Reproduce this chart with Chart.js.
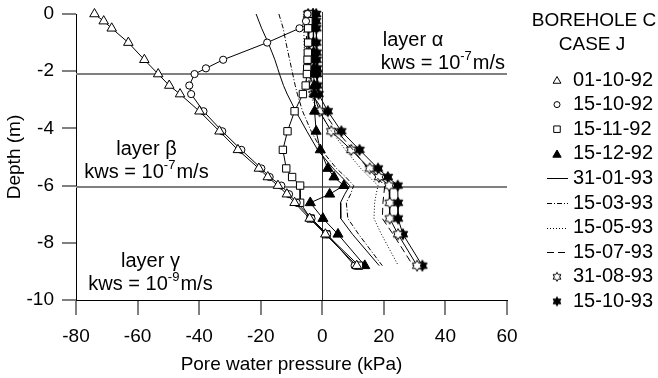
<!DOCTYPE html>
<html><head><meta charset="utf-8">
<script src="https://cdn.jsdelivr.net/npm/chart.js@4/dist/chart.umd.min.js"></script>
<style>html,body{margin:0;padding:0;background:#fff}#wrap{width:658px;height:378px;position:relative}</style>
</head><body><div id="wrap"><canvas id="c" width="658" height="378"></canvas></div>
<script>
// Depth levels (m)
const DEPTH = [0, -0.25, -0.5, -1.0, -1.35, -1.6, -1.9, -2.1, -2.5, -2.8, -3.4, -4.1, -4.75, -5.4, -5.7, -6.0, -6.3, -6.6, -7.15, -7.7, -8.8];
// Pore water pressure (kPa) per survey date, aligned with DEPTH (null = no reading)
const P_01_10_92 = [-74, -71, -68.4, -63, null, -57.8, null, -53.3, -49.7, -46.2, -39.9, -33.4, -27.4, -20.6, -17.7, -14.4, -11.5, -9.0, -4.1, 1.0, 11.2];
const P_15_10_92 = [-4.8, -5.3, -7.4, -17.9, null, -32.2, -37.8, -41.5, -43.2, -42.6, -38.6, -32.5, -26.3, -19.8, -17.1, -13.3, -10.8, -8.3, -3.5, 1.6, 10.5];
const P_15_11_92 = [-4.5, -4.5, -4.6, -4.6, -4.7, -4.8, -4.9, -5.0, -5.4, -6.3, -9.0, -11.3, -12.8, -11.7, -9.8, -7.2, null, -7.2, -3.8, 1.3, 11.9];
const P_15_12_92 = [-3.0, -3.0, -2.9, -2.9, -2.8, -2.8, -2.7, -2.7, -2.6, -2.5, -2.5, -2.0, -0.65, 1.8, 3.8, 7.0, 2.4, -3.9, 0.2, 5.1, 13.8];
const P_31_01_93 = [-21.5, -20.6, -19.7, -17.6, -16.3, -15.4, -14.5, -13.9, -12.6, -11.4, -8.6, -5.0, -1.5, 3.5, 6.3, 8.9, 7.3, 5.9, 6.0, 9.8, 18.5];
const P_15_03_93 = [-14.1, -13.4, -12.7, -11.8, -11.1, -10.6, -10.0, -9.6, -8.8, -8.1, -6.4, -3.6, -0.3, 4.6, 7.6, 10.2, 9.2, 7.8, 8.3, 11.8, 19.5];
const P_15_05_93 = [-6.0, -6.0, -6.0, -5.9, -5.8, -5.7, -5.6, -5.5, -5.0, -4.2, -1.2, 3.0, 7.5, 12.5, 15.3, 18.1, 17.5, 17.0, 16.8, 19.2, 24.7];
const P_15_07_93 = [-5.2, -5.2, -5.2, -5.1, -5.0, -4.9, -4.8, -4.6, -4.1, -3.2, 0.3, 4.8, 10.0, 14.8, 17.6, 20.3, 20.0, 19.7, 19.5, 23.0, 29.5];
const P_31_08_93 = [-4.6, -4.5, -4.4, -4.3, -4.2, -4.1, -4.0, -3.8, -3.5, -2.8, -0.9, 2.9, 9.4, 15.4, 18.4, 21.7, null, 21.9, 21.9, 24.6, 30.8];
const P_15_10_93 = [-2.0, -2.0, -1.9, -1.9, -1.8, -1.8, -1.7, -1.7, -1.6, -1.2, 1.8, 6.2, 12.1, 18.1, 21.3, 24.5, null, 24.6, 24.6, 26.2, 32.5];
const SERIES_LABELS = ['01-10-92','15-10-92','15-11-92','15-12-92','31-01-93','15-03-93','15-05-93','15-07-93','31-08-93','15-10-93'];
const SERIES_VALUES = [P_01_10_92, P_15_10_92, P_15_11_92, P_15_12_92, P_31_01_93, P_15_03_93, P_15_05_93, P_15_07_93, P_31_08_93, P_15_10_93];
const X_TICKS = [-80, -60, -40, -20, 0, 20, 40, 60];
const Y_TICKS = [0, -2, -4, -6, -8, -10];
const LAYER_BOUNDS = [-2.1, -6.05];
const LEGEND_TITLE = ['BOREHOLE C', 'CASE J'];
const LAYER_NAMES = ['layer α', 'layer β', 'layer γ'];
const LAYER_EXPONENTS = ['-7', '-7', '-9'];

const FONT = '"Liberation Sans", Arial, sans-serif';
// annotation anchors (data units) and alignment
const NOTE_POS = [
  {x: 19, d: -0.92, align: 'left'},
  {x: -57.1, d: -4.72, align: 'center'},
  {x: -55.8, d: -8.66, align: 'center'}
];

function makeStar(fill, R) {
  const s = Math.ceil(R * 2 + 3);
  const c = document.createElement('canvas'); c.width = c.height = s;
  const g = c.getContext('2d');
  const cx = s / 2, cy = s / 2, r = R / Math.sqrt(3);
  g.beginPath();
  for (let i = 0; i < 12; i++) {
    const a = -Math.PI / 2 + i * Math.PI / 6;
    const rr = i % 2 === 0 ? R : r;
    g.lineTo(cx + rr * Math.cos(a), cy + rr * Math.sin(a));
  }
  g.closePath(); g.fillStyle = fill; g.fill();
  g.strokeStyle = '#000'; g.lineWidth = 1; g.stroke();
  return c;
}
const STAR_OPEN = makeStar('#fff', 5.5), STAR_FILL = makeStar('#000', 5.5);
const STAR_OPEN_L = makeStar('#fff', 4.5), STAR_FILL_L = makeStar('#000', 4.5);

const STYLES = [
  {pointStyle: 'triangle', pointRadius: 5.5, pointBackgroundColor: '#fff'},
  {pointStyle: 'circle', pointRadius: 3.6, pointBackgroundColor: '#fff'},
  {pointStyle: 'rect', pointRadius: 5.2, pointBackgroundColor: '#fff'},
  {pointStyle: 'triangle', pointRadius: 5.8, pointBackgroundColor: '#000'},
  {pointRadius: 0, borderDash: []},
  {pointRadius: 0, borderDash: [5, 2, 1, 2]},
  {pointRadius: 0, borderDash: [1, 2]},
  {pointRadius: 0, borderDash: [7, 4]},
  {pointStyle: STAR_OPEN, pointRadius: 5.5, pointBackgroundColor: '#fff'},
  {pointStyle: STAR_FILL, pointRadius: 5.5, pointBackgroundColor: '#000'}
];
const LEGEND_MARKS = [
  {ps: 'triangle', r: 4.5, bg: '#fff'},
  {ps: 'circle', r: 3, bg: '#fff'},
  {ps: 'rect', r: 4.6, bg: '#fff'},
  {ps: 'triangle', r: 4.8, bg: '#000'},
  {dash: []},
  {dash: [5, 2, 1, 2]},
  {dash: [1, 2]},
  {dash: [7, 4]},
  {img: STAR_OPEN_L},
  {img: STAR_FILL_L}
];

const datasets = SERIES_VALUES.map((vals, i) => Object.assign({
  label: SERIES_LABELS[i],
  data: DEPTH.map((d, k) => vals[k] == null ? null : {x: vals[k], y: d}).filter(p => p),
  showLine: true,
  borderColor: '#000',
  borderWidth: 1,
  pointBorderColor: '#000',
  pointBorderWidth: 1,
  tension: 0,
  fill: false,
  clip: false
}, STYLES[i]));

const overlay = {
  id: 'overlay',
  beforeDatasetsDraw(chart) {
    const {ctx, chartArea: a, scales: {x, y}} = chart;
    ctx.save();
    ctx.strokeStyle = '#808080'; ctx.lineWidth = 2;
    LAYER_BOUNDS.forEach(d => {
      const py = Math.round(y.getPixelForValue(d));
      ctx.beginPath(); ctx.moveTo(a.left, py); ctx.lineTo(a.right, py); ctx.stroke();
    });
    ctx.strokeStyle = '#333'; ctx.lineWidth = 1;
    const px = Math.round(x.getPixelForValue(0)) + 0.5;
    ctx.beginPath(); ctx.moveTo(px, a.top - 2); ctx.lineTo(px, a.bottom); ctx.stroke();
    ctx.restore();
  },
  afterDraw(chart) {
    const {ctx, scales: {x, y}} = chart;
    ctx.save();
    ctx.fillStyle = '#000';
    ctx.textBaseline = 'middle';
    // layer annotations
    NOTE_POS.forEach((n, i) => {
      const ax = x.getPixelForValue(n.x), cy = y.getPixelForValue(n.d);
      const a = 'kws = 10', b = LAYER_EXPONENTS[i], c = 'm/s';
      ctx.font = '20px ' + FONT;
      const wName = ctx.measureText(LAYER_NAMES[i]).width;
      const wa = ctx.measureText(a).width, wc = ctx.measureText(c).width;
      ctx.font = '13px ' + FONT; const wb = ctx.measureText(b).width;
      const wk = wa + wb + wc + 1;
      ctx.textAlign = 'left';
      let nx, sx;
      if (n.align === 'left') { nx = ax + 2; sx = ax; }
      else { nx = ax - wName / 2; sx = ax - wk / 2; }
      ctx.font = '20px ' + FONT;
      ctx.fillText(LAYER_NAMES[i], nx, cy);
      const ly = cy + 23;
      ctx.fillText(a, sx, ly); sx += wa;
      ctx.font = '13px ' + FONT; ctx.fillText(b, sx, ly - 7); sx += wb + 1;
      ctx.font = '20px ' + FONT; ctx.fillText(c, sx, ly);
    });
    // legend
    ctx.textAlign = 'center';
    ctx.font = '19px ' + FONT;
    ctx.fillText(LEGEND_TITLE[0], 594, 21);
    ctx.fillText(LEGEND_TITLE[1], 592, 45);
    ctx.font = '20px ' + FONT;
    LEGEND_MARKS.forEach((lg, i) => {
      const ry = 80 + 24.6 * i, mx = 557;
      ctx.textAlign = 'left';
      ctx.fillStyle = '#000';
      ctx.fillText(SERIES_LABELS[i], 573, ry);
      ctx.strokeStyle = '#000'; ctx.lineWidth = 1;
      if (lg.dash) {
        ctx.setLineDash(lg.dash);
        ctx.beginPath(); ctx.moveTo(547, Math.round(ry) + 0.5); ctx.lineTo(568, Math.round(ry) + 0.5); ctx.stroke();
        ctx.setLineDash([]);
      } else if (lg.img) {
        ctx.drawImage(lg.img, mx - lg.img.width / 2, ry - lg.img.height / 2);
      } else {
        ctx.fillStyle = lg.bg;
        ctx.beginPath();
        if (lg.ps === 'triangle') {
          for (let k = 0; k < 3; k++) {
            const ang = k * 2 * Math.PI / 3;
            ctx.lineTo(mx + Math.sin(ang) * lg.r, ry - Math.cos(ang) * lg.r + 1);
          }
          ctx.closePath();
        } else if (lg.ps === 'circle') {
          ctx.arc(mx, ry, lg.r, 0, Math.PI * 2);
        } else {
          const h = lg.r * Math.SQRT1_2;
          ctx.rect(mx - h, ry - h, 2 * h, 2 * h);
        }
        ctx.fill(); ctx.stroke();
        ctx.fillStyle = '#000';
      }
    });
    ctx.restore();
  }
};

new Chart(document.getElementById('c'), {
  type: 'scatter',
  data: {datasets},
  plugins: [overlay],
  options: {
    responsive: false,
    animation: false,
    layout: {autoPadding: false, padding: {top: 14, right: 151, bottom: 0, left: 0}},
    plugins: {legend: {display: false}, tooltip: {enabled: false}},
    scales: {
      x: {
        type: 'linear', min: -80, max: 60,
        afterBuildTicks: s => { s.ticks = X_TICKS.map(v => ({value: v})); },
        afterFit: s => { s.height = 78; s.paddingLeft = 0; s.paddingRight = 0; },
        ticks: {color: '#000', font: {size: 19, family: FONT}, padding: 10, callback: v => String(v), maxRotation: 0},
        grid: {drawOnChartArea: false, drawTicks: true, tickLength: 15, color: '#808080', lineWidth: 2},
        border: {display: true, color: '#000', width: 1},
        title: {display: true, text: 'Pore water pressure (kPa)', color: '#000', font: {size: 19, family: FONT}, padding: {top: 0, bottom: 2}}
      },
      y: {
        type: 'linear', min: -10, max: 0,
        afterBuildTicks: s => { s.ticks = Y_TICKS.map(v => ({value: v})); },
        afterFit: s => { s.width = 76; s.paddingTop = 0; s.paddingBottom = 0; },
        ticks: {color: '#000', font: {size: 19, family: FONT}, padding: 8, callback: v => String(v)},
        grid: {drawOnChartArea: false, drawTicks: true, tickLength: 14, color: '#808080', lineWidth: 2},
        border: {display: true, color: '#000', width: 1},
        title: {display: true, text: 'Depth (m)', color: '#000', font: {size: 19, family: FONT}, padding: {top: 3, bottom: 0}}
      }
    }
  }
});
</script></body></html>
